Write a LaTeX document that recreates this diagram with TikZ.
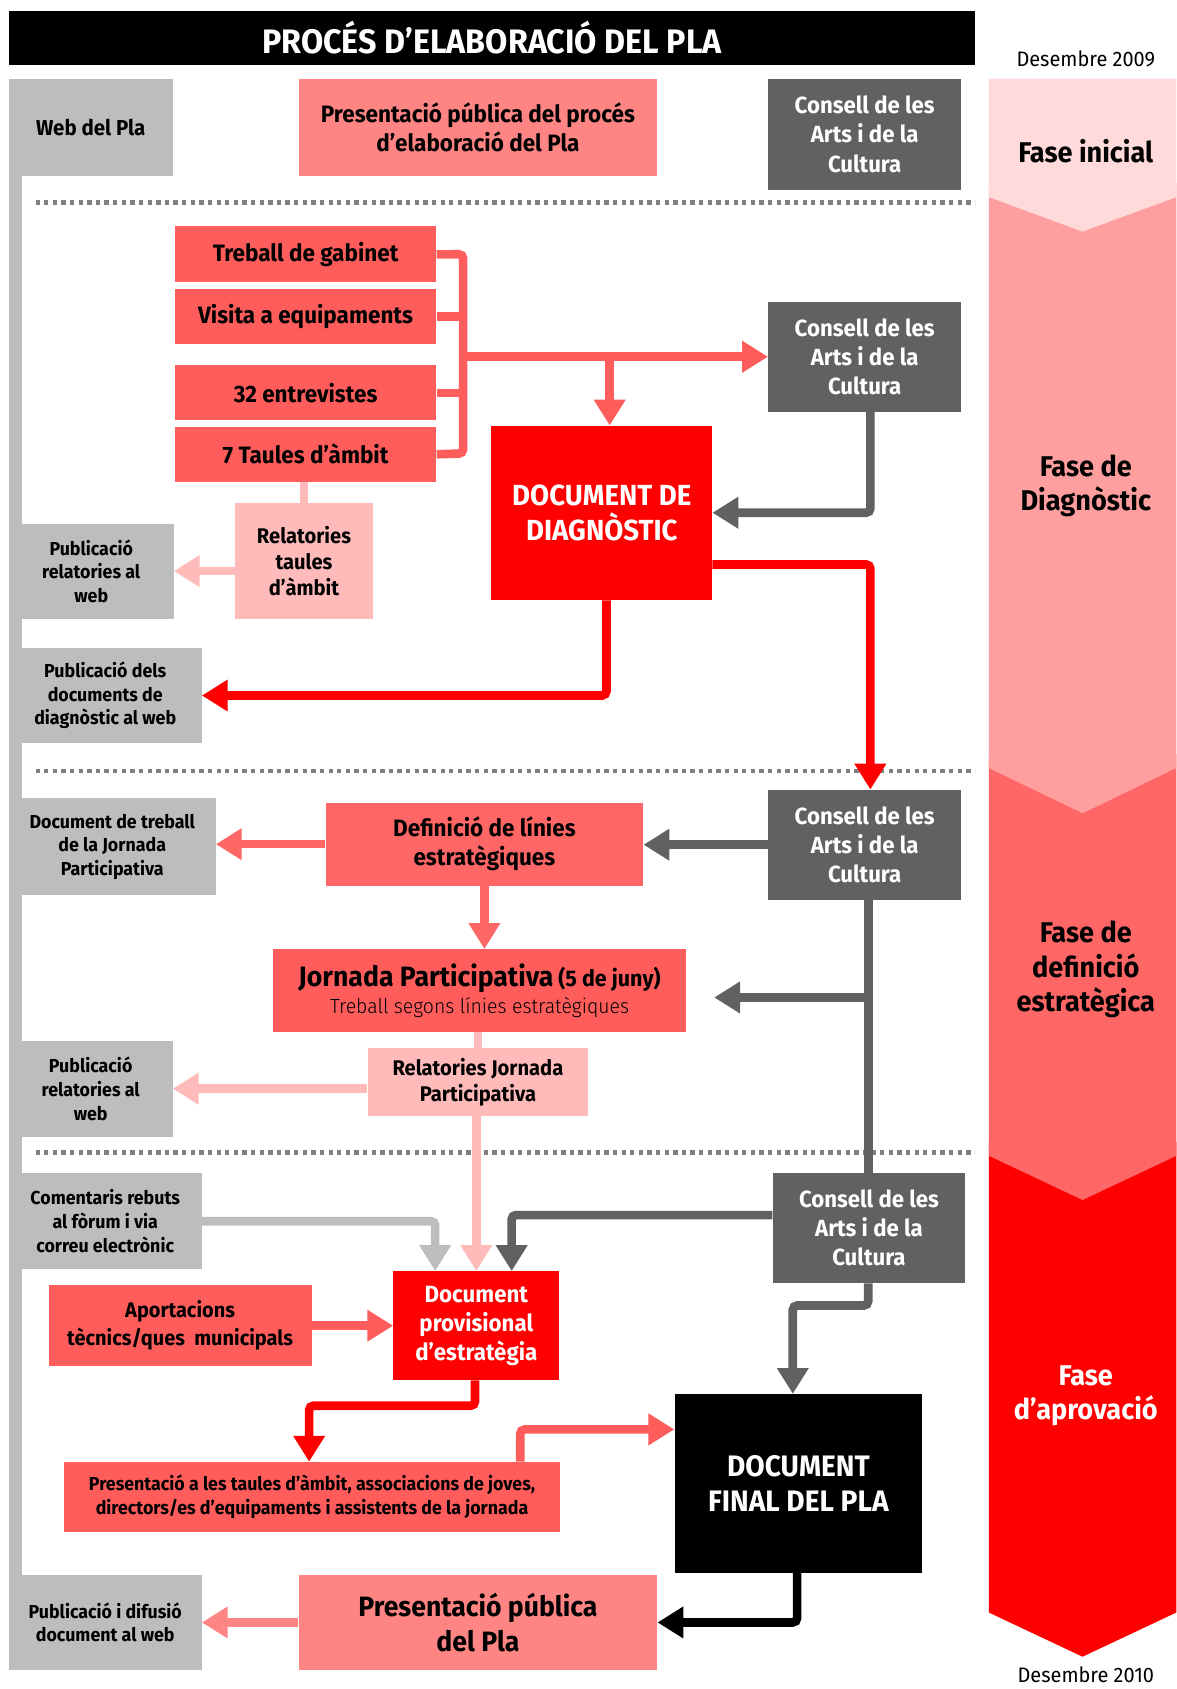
\documentclass[tikz,border=0pt]{standalone}
\usepackage{fontspec}
\setmainfont{Fira Sans}[FakeStretch=0.95]
\newfontfamily\lightf{Fira Sans Light}[FakeStretch=0.95]
\usetikzlibrary{arrows.meta}
\definecolor{lgray}{HTML}{BDBDBD}
\definecolor{dgray}{HTML}{616161}
\definecolor{pinkA}{HTML}{FF8585}
\definecolor{redbox}{HTML}{FF5C5C}
\definecolor{lpink}{HTML}{FFBABA}
\definecolor{ph1}{HTML}{FFDADA}
\definecolor{ph2}{HTML}{FF9E9E}
\definecolor{ph3}{HTML}{FF6666}
\definecolor{dots}{HTML}{808080}
\tikzset{
  bx/.style={anchor=north west, inner sep=0pt, align=center, font=\bfseries},
  graybox/.style={bx, fill=lgray, font=\fontsize{17.4}{22}\selectfont\bfseries},
  consell/.style={bx, fill=dgray, text=white, minimum width=179pt, minimum height=102pt, font=\fontsize{21.7}{27}\selectfont\bfseries},
  redb/.style={bx, fill=redbox, font=\fontsize{22}{26}\selectfont\bfseries},
  lpb/.style={bx, fill=lpink, font=\fontsize{19.7}{24}\selectfont\bfseries},
  ln/.style={line width=8pt, rounded corners=4pt},
  tip/.style={-{Triangle[width=28pt,length=24pt]}},
  phase/.style={align=center, font=\fontsize{26.5}{32}\selectfont\bfseries},
  sep/.style={line width=4pt, dots, dash pattern=on 4pt off 4pt}
}
\begin{document}
\begin{tikzpicture}[x=1pt,y=-1pt]
\useasboundingbox (0,0) rectangle (1092,1568);
\fill[white] (0,0) rectangle (1092,1568);
% phase bands
\fill[red] (918,1060) -- (1092,1060) -- (1092,1497) -- (1005,1538) -- (918,1497) -- cycle;
\fill[ph3] (918,700) -- (1092,700) -- (1092,1073) -- (1005,1114) -- (918,1073) -- cycle;
\fill[ph2] (918,170) -- (1092,170) -- (1092,713) -- (1005,755) -- (918,713) -- cycle;
\fill[ph1] (918,73) -- (1092,73) -- (1092,183) -- (1005,215) -- (918,183) -- cycle;
\node[phase] (f1) at (1008,140) {Fase inicial};
\node[phase] (f2) at (1008,451) {Fase de\\Diagnòstic};
\node[phase] (f3) at (1008,900) {Fase de\\definició\\estratègica};
\node[phase, text=white] (f4) at (1008,1296) {Fase\\d’aprovació};
\node[font=\fontsize{19.5}{22}\selectfont] (d1) at (1008,55) {Desembre 2009};
\node[font=\fontsize{19.5}{22}\selectfont] (d2) at (1008,1555) {Desembre 2010};
% title
\node[bx, fill=black, text=white, minimum width=897pt, minimum height=50pt, font=\fontsize{31.5}{34}\selectfont\bfseries] (title) at (8,10) {PROCÉS D’ELABORACIÓ DEL PLA};
% separators
\draw[sep] (33,188) -- (905,188);
\draw[sep] (33,716) -- (905,716);
\draw[sep] (33,1070) -- (905,1070);
% left bar
\fill[lgray] (8,73) rectangle (20,1550);
% boxes
\node[graybox, minimum width=152pt, minimum height=90pt, font=\fontsize{20}{24}\selectfont\bfseries] (web) at (8,73) {Web del Pla};
\node[bx, fill=pinkA, minimum width=333pt, minimum height=90pt, font=\fontsize{22}{27}\selectfont\bfseries] (presini) at (277,73) {Presentació pública del procés\\d’elaboració del Pla};
\node[consell, minimum height=103pt] (cons1) at (713,73) {Consell de les\\Arts i de la\\Cultura};
\node[redb, minimum width=243pt, minimum height=52pt] (tg) at (162,210) {Treball de gabinet};
\node[redb, minimum width=243pt, minimum height=51pt] (ve) at (162,268) {Visita a equipaments};
\node[redb, minimum width=243pt, minimum height=51pt] (en) at (162,339) {32 entrevistes};
\node[redb, minimum width=243pt, minimum height=51pt] (t7) at (162,396) {7 Taules d’àmbit};
\node[consell] (cons2) at (713,280) {Consell de les\\Arts i de la\\Cultura};
\node[bx, fill=red, text=white, minimum width=205pt, minimum height=162pt, font=\fontsize{27}{32}\selectfont\bfseries] (docd) at (456,395) {DOCUMENT DE\\DIAGNÒSTIC};
\node[lpb, minimum width=128pt, minimum height=107pt] (relt) at (218,467) {Relatories\\taules\\d’àmbit};
\node[graybox, minimum width=153pt, minimum height=88pt] (pubrel1) at (8,486) {Publicació\\relatories al\\web};
\node[graybox, minimum width=179pt, minimum height=89pt] (pubdoc) at (8,601) {Publicació dels\\documents de\\diagnòstic al web};
\node[consell] (cons3) at (713,733) {Consell de les\\Arts i de la\\Cultura};
\node[bx, fill=ph3, minimum width=295pt, minimum height=77pt, font=\fontsize{22}{27}\selectfont\bfseries] (defi) at (302,745) {Definició de línies\\estratègiques};
\node[graybox, minimum width=192pt, minimum height=90pt] (doctreb) at (8,741) {Document de treball\\de la Jornada\\Participativa};
\node[bx, fill=redbox, minimum width=384pt, minimum height=77pt] (jorn) at (253,881) {{\fontsize{26}{28}\selectfont\bfseries Jornada Participativa}{\fontsize{21}{28}\selectfont\bfseries\ (5 de juny)}\\[3pt]{\fontsize{19}{22}\selectfont\lightf\mdseries Treball segons línies estratègiques}};
\node[lpb, minimum width=205pt, minimum height=63pt] (relj) at (341,973) {Relatories Jornada\\Participativa};
\node[graybox, minimum width=152pt, minimum height=89pt] (pubrel2) at (8,966) {Publicació\\relatories al\\web};
\node[graybox, minimum width=179pt, minimum height=89pt] (coment) at (8,1089) {Comentaris rebuts\\al fòrum i via\\correu electrònic};
\node[consell] (cons4) at (717,1089) {Consell de les\\Arts i de la\\Cultura};
\node[bx, fill=red, text=white, minimum width=154pt, minimum height=101pt, font=\fontsize{21.8}{27}\selectfont\bfseries] (docprov) at (365,1180) {Document\\provisional\\d’estratègia};
\node[redb, minimum width=244pt, minimum height=75pt, font=\fontsize{19.5}{26}\selectfont\bfseries] (aport) at (45,1193) {Aportacions\\tècnics/ques\ \ municipals};
\node[redb, minimum width=461pt, minimum height=65pt, font=\fontsize{17.4}{22}\selectfont\bfseries] (prestaul) at (59,1357) {Presentació a les taules d’àmbit, associacions de joves,\\directors/es d’equipaments i assistents de la jornada};
\node[bx, fill=black, text=white, minimum width=230pt, minimum height=166pt, font=\fontsize{27.5}{32}\selectfont\bfseries] (docfin) at (626,1294) {DOCUMENT\\FINAL DEL PLA};
\node[bx, fill=pinkA, minimum width=333pt, minimum height=88pt, font=\fontsize{26}{33}\selectfont\bfseries] (prespub) at (277,1462) {Presentació pública\\del Pla};
\node[graybox, minimum width=179pt, minimum height=88pt] (pubdif) at (8,1462) {Publicació i difusió\\document al web};
% guide coordinates
\coordinate (bT) at (430,236);
\coordinate (bB) at (430,421);
\coordinate (vx566) at (566,0);
\coordinate (vx808) at (808,0);
\coordinate (vx563) at (563,0);
\coordinate (vx806) at (806,0);
\coordinate (vx475) at (475,0);
\coordinate (vx404) at (404,0);
\coordinate (vx441) at (441,0);
\coordinate (vx287) at (287,0);
\coordinate (vx483) at (483,0);
\coordinate (vx736) at (736,0);
\coordinate (vx740) at (740,0);
\coordinate (hy476) at (0,476);
\coordinate (hy524) at (0,524);
\coordinate (hy926) at (0,926);
\coordinate (hy1128) at (0,1128);
\coordinate (hy1305) at (0,1305);
\coordinate (hy1327) at (0,1327);
\coordinate (hy1212) at (0,1212);
\coordinate (jE) at (663,926);
% diagnostic connectors
\draw[ln, redbox] (tg.east) -- (bT) -- (bB) -- (t7.east);
\draw[ln, redbox] (ve.east) -- (ve.east -| bT);
\draw[ln, redbox] (en.east) -- (en.east -| bT);
\draw[ln, redbox, tip] (bT |- cons2.west) -- (cons2.west);
\draw[ln, redbox, tip] (vx566 |- cons2.west) -- (docd.north -| vx566);
\draw[ln, dgray, tip] (cons2.south -| vx808) |- (docd.east |- hy476);
\draw[ln, red, tip] (docd.east |- hy524) -| (cons3.north -| vx808);
\draw[ln, red, tip] (docd.south -| vx563) |- (pubdoc.east);
\draw[ln, lpink] (t7.south -| relt.north) -- (relt.north);
\draw[ln, lpink, tip] (relt.west |- pubrel1.east) -- (pubrel1.east);
% definition connectors
\draw[ln, dgray, tip] (cons3.west) -- (cons3.west -| defi.east);
\draw[ln, ph3, tip] (defi.west) -- (defi.west -| doctreb.east);
\draw[ln, ph3, tip] (defi.south) -- (defi.south |- jorn.north);
\draw[ln, dgray] (cons3.south -| vx806) -- (cons4.north -| vx806);
\draw[ln, dgray, tip] (vx806 |- hy926) -- (jE);
\draw[ln, lpink] (relj.north |- jorn.south) -- (relj.north);
\draw[ln, lpink, tip] (relj.south -| docprov.north) -- (docprov.north);
\draw[ln, lpink, tip] (relj.west |- pubrel2.east) -- (pubrel2.east);
% approval connectors
\draw[ln, dgray, tip] (cons4.west |- hy1128) -| (docprov.north -| vx475);
\draw[ln, lgray, tip] (coment.east) -| (docprov.north -| vx404);
\draw[ln, redbox, tip] (aport.east) -- (aport.east -| docprov.west);
\draw[ln, red, tip] (docprov.south -| vx441) -- (vx441 |- hy1305) -- (vx287 |- hy1305) -- (prestaul.north -| vx287);
\draw[ln, redbox, tip] (prestaul.north -| vx483) |- (docfin.west |- hy1327);
\draw[ln, dgray, tip] (cons4.south -| vx806) -- (vx806 |- hy1212) -- (vx736 |- hy1212) -- (docfin.north -| vx736);
\draw[ln, black, tip] (docfin.south -| vx740) |- (prespub.east);
\draw[ln, pinkA, tip] (prespub.west) -- (prespub.west -| pubdif.east);
\end{tikzpicture}
\end{document}
